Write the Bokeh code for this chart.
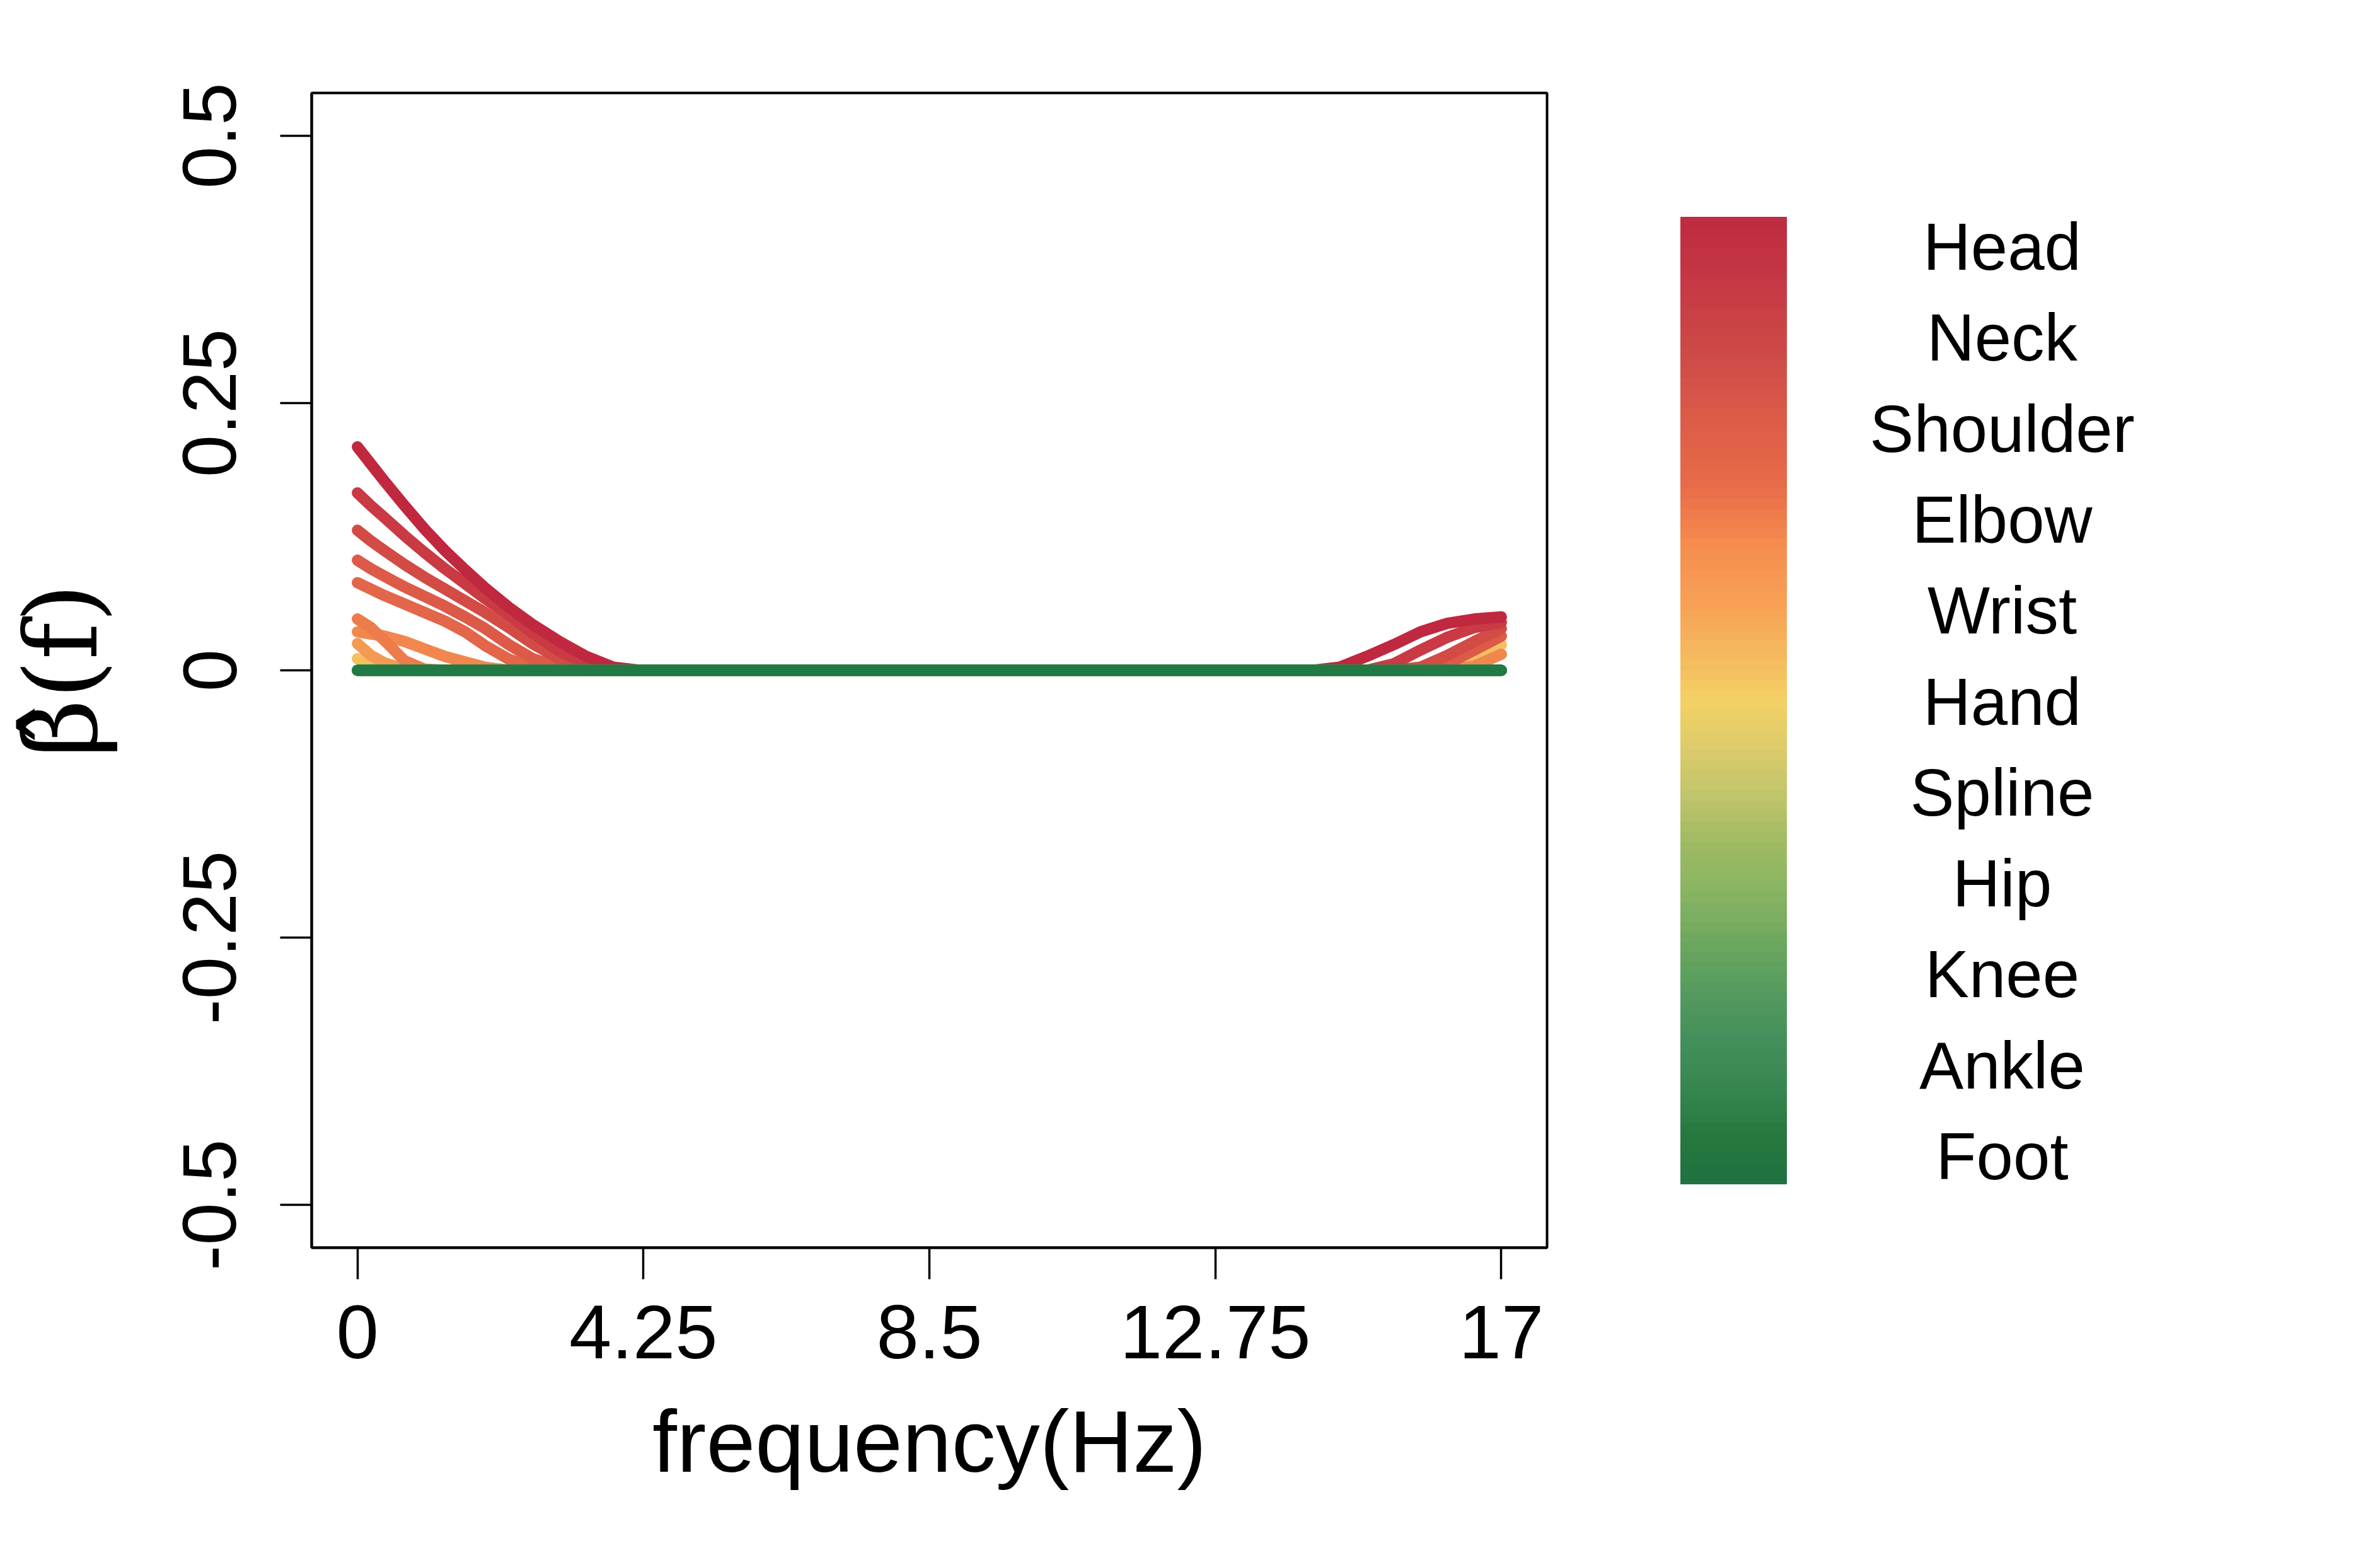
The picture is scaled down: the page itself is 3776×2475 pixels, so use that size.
import numpy as np
from bokeh.plotting import figure
from bokeh.models import Range1d, FixedTicker
from bokeh.layouts import row
from bokeh.embed import file_html
from bokeh.resources import INLINE
from bokeh.core.properties import value

# ---------------- data ----------------
freq = [0, 0.2, 0.4, 0.7, 1.0, 1.3, 1.6, 1.9, 2.25, 2.6, 3.0, 3.4, 3.8, 4.2,
        8.5, 14.2, 14.6, 15.0, 15.4, 15.8, 16.2, 16.6, 17.0]

beta_1 = [.209, .193, .177, .154, .132, .112, .094, .077, .059, .043, .027, .013, .003, 0,
          0, 0, .003, .013, .024, .036, .044, .048, .050]
beta_2 = [.166, .154, .143, .126, .110, .095, .081, .067, .052, .035, .018, .0065, .001, 0,
          0, 0, 0, 0, .006, .019, .031, .040, .045]
beta_3 = [.131, .121, .112, .099, .087, .076, .065, .054, .040, .025, .011, .0025, 0, 0,
          0, 0, 0, 0, 0, .003, .014, .027, .039]
beta_4 = [.103, .095, .088, .078, .069, .060, .050, .039, .024, .011, .0027, 0, 0, 0,
          0, 0, 0, 0, 0, 0, .006, .019, .032]
beta_5 = [.082, .076, .070, .062, .054, .046, .036, .023, .0104, .003, 0, 0, 0, 0,
          0, 0, 0, 0, 0, 0, 0, 0, 0]
beta_6 = [.048, .040, .028, .009, .001, 0, 0, 0, 0, 0, 0, 0, 0, 0,
          0, 0, 0, 0, 0, 0, 0, 0, 0]
beta_7 = [.036, .034, .032, .027, .020, .013, .0078, .0028, 0, 0, 0, 0, 0, 0,
          0, 0, 0, 0, 0, 0, 0, .004, .015]
beta_8 = [.025, .014, .007, .001, 0, 0, 0, 0, 0, 0, 0, 0, 0, 0,
          0, 0, 0, 0, 0, 0, 0, 0, 0]
beta_9 = [.011, .004, 0, 0, 0, 0, 0, 0, 0, 0, 0, 0, 0, 0,
          0, 0, 0, 0, 0, 0, .001, .011, .024]
beta_zero = [0] * len(freq)

colored_series = [beta_1, beta_2, beta_3, beta_4, beta_5, beta_6, beta_7, beta_8, beta_9]
colored_colors = ["#C0283F", "#C93A44", "#D34B45", "#DC5A47", "#E3654A",
                  "#EE7B4C", "#F2874E", "#F59A54", "#F4C060"]
zero_colors = ["#BFC46A", "#87B462", "#559B5E", "#378650", "#217A43"]

x_ticks = [0, 4.25, 8.5, 12.75, 17]
x_tick_labels = ["0", "4.25", "8.5", "12.75", "17"]
y_ticks = [-0.5, -0.25, 0, 0.25, 0.5]
y_tick_labels = ["-0.5", "-0.25", "0", "0.25", "0.5"]

body_parts = ["Head", "Neck", "Shoulder", "Elbow", "Wrist", "Hand",
              "Spline", "Hip", "Knee", "Ankle", "Foot"]

cb_pos = [0, .08, .15, .22, .28, .34, .40, .45, .50, .55, .60, .65, .70, .75,
          .80, .85, .90, .95, 1.0]
cb_col = ["#BE2A40", "#C73B44", "#D04C48", "#DE5E48", "#E86C49", "#F68D4E",
          "#F8A155", "#F4B75E", "#F4D164", "#DCCB6A", "#BFC46A", "#9DBA62",
          "#87B462", "#6EA75F", "#559B5E", "#44905C", "#378650", "#27783F",
          "#1E7240"]

FONT = "Liberation Sans"

# frame placement (page pixels)
FL, FT, FW, FH = 494, 147, 1960, 1832
MAIN_W, H = 2600, 2459

# ---------------- main plot ----------------
p = figure(width=MAIN_W, height=H,
           x_range=Range1d(-0.68, 17.68), y_range=Range1d(-0.54, 0.54),
           output_backend="svg", toolbar_location=None,
           min_border_left=FL, min_border_right=MAIN_W - FL - FW,
           min_border_top=FT, min_border_bottom=H - FT - FH)
p.grid.visible = False
p.background_fill_color = "white"
p.border_fill_color = "white"
p.outline_line_color = "black"
p.outline_line_width = 4

for ser, col in zip(reversed(colored_series), reversed(colored_colors)):
    p.line(freq, ser, line_color=col, line_width=18, line_cap="round", line_join="round")
for col in zero_colors:
    p.line(freq, beta_zero, line_color=col, line_width=18, line_cap="round", line_join="round")

for ax in (p.xaxis[0], p.yaxis[0]):
    ax.axis_line_width = 4
    ax.axis_line_color = "black"
    ax.major_tick_line_width = 3.5
    ax.major_tick_line_color = "black"
    ax.major_tick_in = 0
    ax.major_tick_out = 50
    ax.minor_tick_line_color = None
    ax.major_label_text_font = FONT
    ax.major_label_text_font_size = "121px"
    ax.major_label_text_color = "black"
    ax.axis_label_text_font = FONT
    ax.axis_label_text_font_size = "140px"
    ax.axis_label_text_font_style = "normal"
    ax.axis_label_text_color = "black"

p.xaxis.ticker = FixedTicker(ticks=x_ticks)
p.xaxis.major_label_overrides = dict(zip(x_ticks, x_tick_labels))
p.xaxis.major_label_standoff = 42
p.xaxis.axis_label = "frequency(Hz)"
p.xaxis.axis_label_standoff = 50

p.yaxis.ticker = FixedTicker(ticks=y_ticks)
p.yaxis.major_label_overrides = dict(zip(y_ticks, y_tick_labels))
p.yaxis.major_label_orientation = "vertical"
p.yaxis.major_label_standoff = 70
p.yaxis.axis_label = "\u03b2\u0302(f)"
p.yaxis.axis_label_text_font = "DejaVu Serif"
p.yaxis.axis_label_text_font_size = "160px"
p.yaxis.axis_label_standoff = 98

# ---------------- colour key ----------------
SIDE_W = 1160
side = figure(width=SIDE_W, height=H,
              x_range=Range1d(MAIN_W, MAIN_W + SIDE_W),
              y_range=Range1d(FT + FH, FT),
              output_backend="svg", toolbar_location=None,
              min_border_left=0, min_border_right=0,
              min_border_top=FT, min_border_bottom=H - FT - FH,
              x_axis_location=None, y_axis_location=None)
side.grid.visible = False
side.outline_line_color = None
side.background_fill_color = "white"
side.border_fill_color = "white"


def hex_to_rgb(h):
    return np.array([int(h[i:i + 2], 16) for i in (1, 3, 5)], dtype=float)


stop_rgb = np.array([hex_to_rgb(c) for c in cb_col])
n_bands = 96
bar_top, bar_bottom = 344, 1878
edges = np.linspace(bar_top, bar_bottom, n_bands + 1)
mids = (np.arange(n_bands) + 0.5) / n_bands
band_cols = []
for t in mids:
    rgb = [np.interp(t, cb_pos, stop_rgb[:, k]) for k in range(3)]
    band_cols.append("#%02x%02x%02x" % tuple(int(round(v)) for v in rgb))
side.quad(left=2666, right=2834, top=edges[:-1], bottom=edges[1:],
          fill_color=band_cols, line_color=band_cols, line_width=1)

label_y = [391 + i * 144.3 for i in range(len(body_parts))]
side.text(x=[3176] * len(body_parts), y=label_y, text=body_parts,
          text_font=value(FONT), text_font_size="105px",
          text_align="center", text_baseline="alphabetic", text_color="black")

layout = row(p, side)
open("out.html", "w").write(file_html(layout, INLINE))
